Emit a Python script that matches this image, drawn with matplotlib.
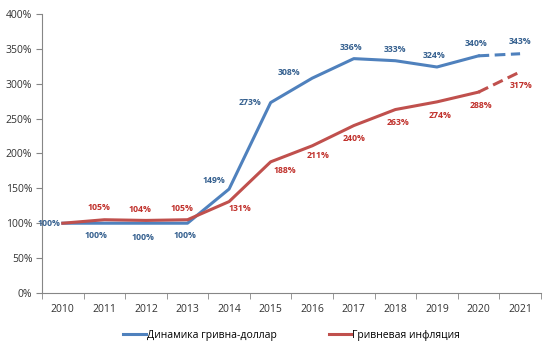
import matplotlib.pyplot as plt

years = ['2010', '2011', '2012', '2013', '2014', '2015', '2016', '2017', '2018', '2019', '2020', '2021']
usd_uah = [100, 100, 100, 100, 149, 273, 308, 336, 333, 324, 340, 343]
inflation = [100, 105, 104, 105, 131, 188, 211, 240, 263, 274, 288, 317]
usd_label = 'Динамика гривна-доллар'
infl_label = 'Гривневая инфляция'

# label offsets (points) for each data label
usd_off = [(-10, 0), (-6, -9), (-2, -10), (-2, -9), (-11, 6), (-15, 0), (-17, 4), (-2, 8), (0, 8), (-2, 8), (-2, 9), (0, 9)]
infl_off = [(0, 0), (-4, 9), (-4, 8), (-4, 8), (8, -5), (10, -6), (4, -7), (0, -9), (2, -9), (2, -10), (2, -10), (1, -10)]

plt.rcParams['font.family'] = ['Open Sans', 'DejaVu Sans']

blue, red = '#4F81BD', '#C0504D'
blue_txt, red_txt = '#35608F', '#C0302B'

fig = plt.figure(figsize=(5.5, 3.5), dpi=100)
ax = fig.add_axes([0.0764, 0.163, 0.907, 0.797])

x = list(range(len(years)))
ax.plot(x[:-1], usd_uah[:-1], color=blue, lw=2.2, label=usd_label)
ax.plot(x[-2:], usd_uah[-2:], color=blue, lw=2.2, ls=(0, (3.5, 1.8)))
ax.plot(x[:-1], inflation[:-1], color=red, lw=2.2, label=infl_label)
ax.plot(x[-2:], inflation[-2:], color=red, lw=2.2, ls=(0, (3.5, 1.8)))

for i, v in enumerate(usd_uah):
    ax.annotate(f'{v}%', (i, v), xytext=usd_off[i], textcoords='offset points',
                ha='center', va='center', fontsize=6.3, fontweight='bold', color=blue_txt)
for i, v in enumerate(inflation):
    if i == 0:
        continue
    ax.annotate(f'{v}%', (i, v), xytext=infl_off[i], textcoords='offset points',
                ha='center', va='center', fontsize=6.3, fontweight='bold', color=red_txt)

ax.set_xlim(-0.5, len(years) - 0.5)
ax.set_ylim(0, 400)
ax.set_yticks(range(0, 401, 50))
ax.set_yticklabels([f'{t}%' for t in range(0, 401, 50)])
ax.set_xticks(x)
ax.set_xticklabels(years)
ax.set_xticks([i - 0.5 for i in range(len(years) + 1)], minor=True)
ax.tick_params(axis='x', which='major', length=0, pad=8, labelsize=7.5, colors='#333333')
ax.tick_params(axis='x', which='minor', length=4, color='#868686')
ax.tick_params(axis='y', length=4, color='#868686', labelsize=7.5, colors='#333333', pad=3)
ax.tick_params(axis='y', color='#868686')
for s in ['top', 'right']:
    ax.spines[s].set_visible(False)
for s in ['left', 'bottom']:
    ax.spines[s].set_color('#868686')
    ax.spines[s].set_linewidth(0.8)

fig.legend(loc='lower center', bbox_to_anchor=(0.53, 0.0), ncol=2, frameon=False,
           fontsize=7.5, handlelength=2.2, handletextpad=0.1, columnspacing=5)

plt.savefig('out.png', dpi=100)
